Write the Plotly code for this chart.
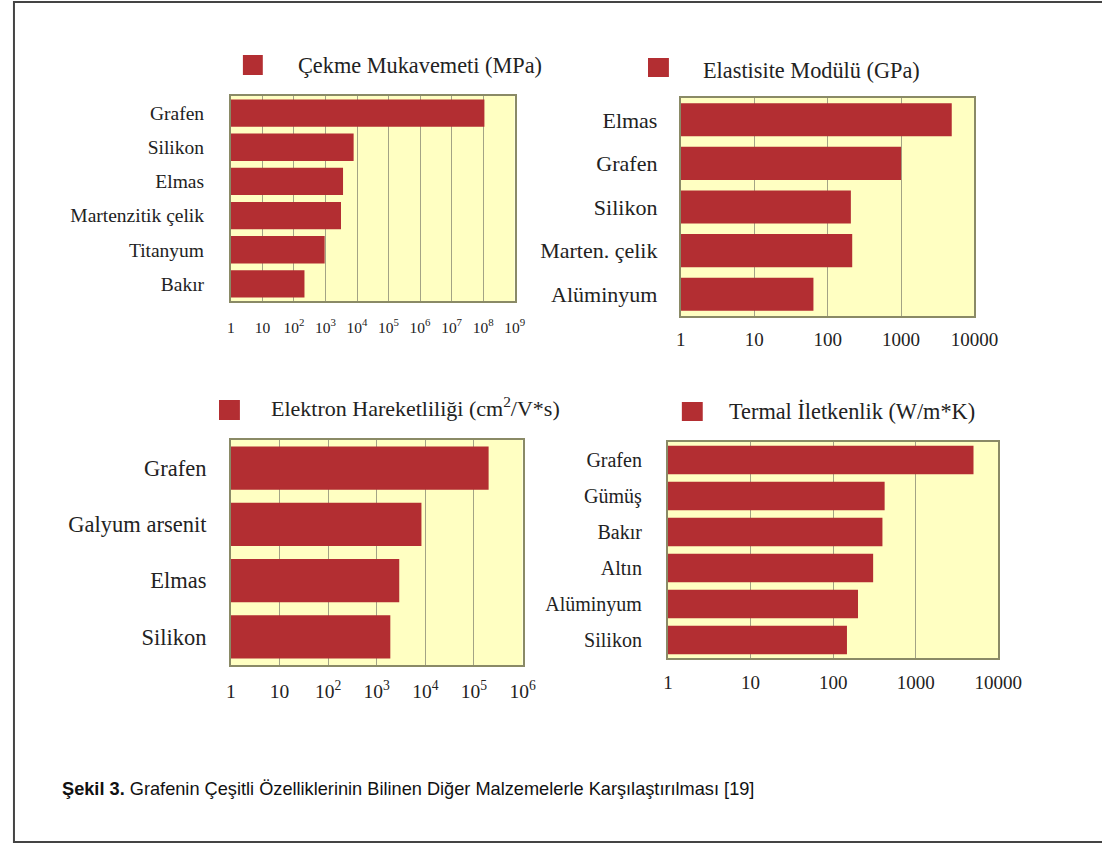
import plotly.graph_objects as go

# ---- data -------------------------------------------------------------
tensile_cats = ["Grafen", "Silikon", "Elmas", "Martenzitik çelik", "Titanyum", "Bakır"]
tensile_vals = [1.1e8, 7800, 3600, 3100, 940, 215]

modulus_cats = ["Elmas", "Grafen", "Silikon", "Marten. çelik", "Alüminyum"]
modulus_vals = [4900, 1000, 207, 216, 64]

mobility_cats = ["Grafen", "Galyum arsenit", "Elmas", "Silikon"]
mobility_vals = [2.0e5, 8300, 2900, 1900]

thermal_cats = ["Grafen", "Gümüş", "Bakır", "Altın", "Alüminyum", "Silikon"]
thermal_vals = [5000, 420, 395, 305, 200, 147]

titles = [
    "Çekme Mukavemeti (MPa)",
    "Elastisite Modülü (GPa)",
    "Elektron Hareketliliği (cm<sup>2</sup>/V*s)",
    "Termal İletkenlik (W/m*K)",
]

sup_ticks_9 = ["1", "10"] + [f"10<sup>{k}</sup>" for k in range(2, 10)]
sup_ticks_6 = ["1", "10"] + [f"10<sup>{k}</sup>" for k in range(2, 7)]
plain_ticks_4 = ["1", "10", "100", "1000", "10000"]

caption_bold = "Şekil 3."
caption_text = "Grafenin Çeşitli Özelliklerinin Bilinen Diğer Malzemelerle Karşılaştırılması [19]"

# ---- styling ----------------------------------------------------------
W, H = 1102, 844
X_OFF, X_SPAN = 3, 1078  # horizontal pixel placement of paper coordinates on the page
BAR = "#B32E32"
BG = "#FFFFC2"
FRAME = "#8A8A66"
GRID = "#A3A385"
SERIF = "Liberation Serif, Times New Roman, serif"


def px(x):
    return (x - X_OFF) / X_SPAN


def py(y):
    return 1 - y / H


# panel boxes in pixels: (x0, x1, y_top, y_bottom)
panels = [
    dict(box=(230, 515, 96, 301), cats=tensile_cats, vals=tensile_vals, decades=9,
         ticktext=sup_ticks_9, tick_size=15.5, cat_size=19.5, tick_gap=11,
         cat_gap=21, bar_w=0.8),
    dict(box=(682, 977, 98, 316), cats=modulus_cats, vals=modulus_vals, decades=4,
         ticktext=plain_ticks_4, tick_size=19, cat_size=22, tick_gap=5,
         cat_gap=17, bar_w=0.76),
    dict(box=(230, 523, 440, 665), cats=mobility_cats, vals=mobility_vals, decades=6,
         ticktext=sup_ticks_6, tick_size=19.5, cat_size=22.5, tick_gap=8,
         cat_gap=18, bar_w=0.77),
    dict(box=(669, 1001, 442, 658), cats=thermal_cats, vals=thermal_vals, decades=4,
         ticktext=plain_ticks_4, tick_size=19, cat_size=20, tick_gap=6,
         cat_gap=20, bar_w=0.79),
]

# legend-style headings: (square x0, x1, y0, y1), text left x, text center y, font size
headings = [
    ((242, 262, 55, 75), 295, 66, 22.3),
    ((649, 670, 58, 77), 702, 71, 22.3),
    ((218, 239, 400, 420), 268, 407, 22),
    ((683, 704, 402, 421), 728, 411, 22.3),
]

fig = go.Figure()
layout = dict(
    width=W, height=H,
    margin=dict(l=0, r=0, t=0, b=0),
    paper_bgcolor="white",
    plot_bgcolor=BG,
    showlegend=False,
    bargap=0.2,
)

shapes = []
annotations = []

for i, p in enumerate(panels, start=1):
    x0, x1, yt, yb = p["box"]
    xa = "x" if i == 1 else f"x{i}"
    ya = "y" if i == 1 else f"y{i}"
    fig.add_trace(go.Bar(
        x=p["vals"], y=p["cats"], orientation="h",
        marker=dict(color=BAR, line=dict(width=0)),
        width=p["bar_w"],
        xaxis=xa, yaxis=ya,
    ))
    key = "" if i == 1 else str(i)
    layout[f"xaxis{key}"] = dict(
        domain=[px(x0), px(x1)],
        anchor=ya,
        type="log",
        range=[0, p["decades"]],
        tickvals=[10 ** k for k in range(p["decades"] + 1)],
        ticktext=p["ticktext"],
        tickfont=dict(family=SERIF, size=p["tick_size"], color="#222"),
        showgrid=True, gridcolor=GRID, gridwidth=1,
        showline=True, linecolor=FRAME, linewidth=2, mirror=True,
        ticks="", ticklabelstandoff=p["tick_gap"],
        zeroline=False, fixedrange=True,
    )
    layout[f"yaxis{key}"] = dict(
        domain=[py(yb), py(yt)],
        anchor=xa,
        type="category",
        categoryorder="array",
        categoryarray=p["cats"],
        autorange="reversed",
        tickfont=dict(family=SERIF, size=p["cat_size"], color="#222"),
        showgrid=False,
        showline=True, linecolor=FRAME, linewidth=2, mirror=True,
        ticks="", ticklabelstandoff=p["cat_gap"],
        fixedrange=True,
    )

for i, ((sx0, sx1, sy0, sy1), tx, ty, fs) in enumerate(headings):
    shapes.append(dict(
        type="rect", xref="paper", yref="paper",
        x0=px(sx0), x1=px(sx1), y0=py(sy1), y1=py(sy0),
        fillcolor=BAR, line=dict(width=0),
    ))
    annotations.append(dict(
        text=titles[i], xref="paper", yref="paper",
        x=px(tx), y=py(ty), xanchor="left", yanchor="middle",
        showarrow=False,
        font=dict(family=SERIF, size=fs, color="#222"),
    ))

# caption under the figure
annotations.append(dict(
    text=f"<b>{caption_bold}</b> {caption_text}",
    xref="paper", yref="paper",
    x=px(58), y=py(789), xanchor="left", yanchor="middle",
    showarrow=False,
    font=dict(family="Liberation Sans, Arial, Helvetica, sans-serif",
              size=18.2, color="#111"),
))

# outer frame
shapes.append(dict(
    type="rect", xref="paper", yref="paper",
    x0=px(12), x1=px(1125), y0=py(842), y1=py(2),
    line=dict(color="#444", width=2), fillcolor="rgba(0,0,0,0)",
))

layout["shapes"] = shapes
layout["annotations"] = annotations
fig.update_layout(**layout)

fig.write_html("out.html")
